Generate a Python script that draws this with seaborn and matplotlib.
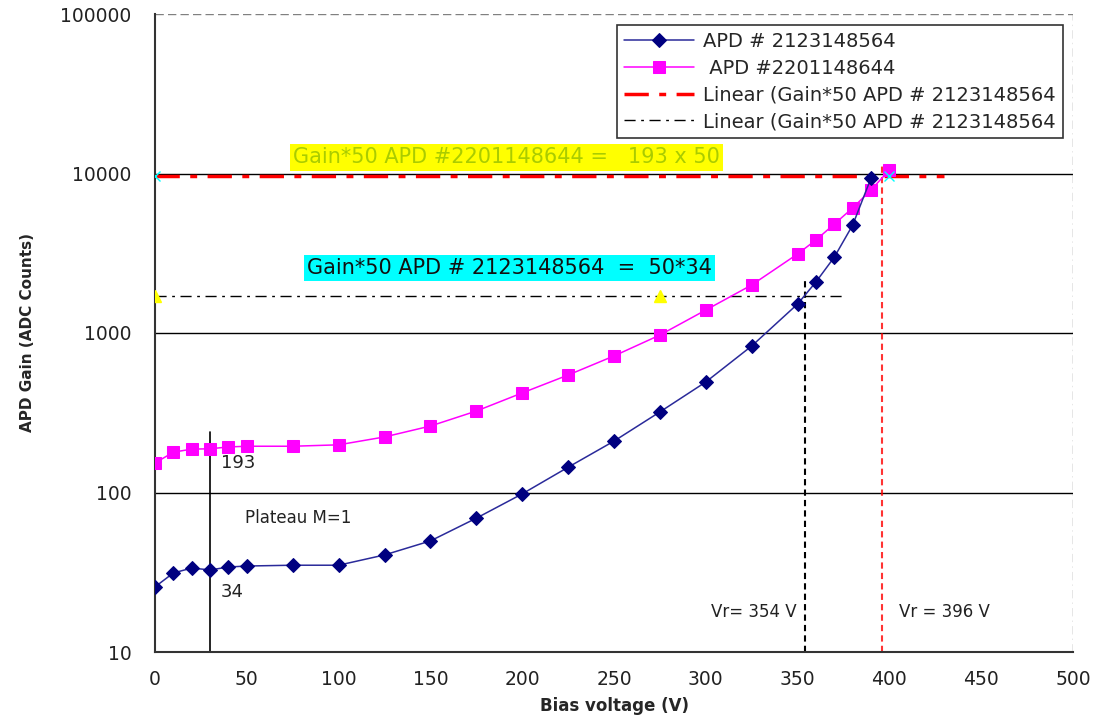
import matplotlib
matplotlib.use("Agg")
import matplotlib.pyplot as plt
import seaborn as sns
import numpy as np
import pandas as pd

# ---- data ----
bias_blue = [0, 10, 20, 30, 40, 50, 75, 100, 125, 150, 175, 200, 225, 250, 275,
             300, 325, 350, 360, 370, 380, 390]
gain_blue = [25.6, 31.3, 33.6, 32.7, 34.1, 34.6, 35, 35, 40.6, 49.7, 69, 98, 144,
             210, 320, 493, 829, 1520, 2090, 2990, 4750, 9370]

bias_pink = [0, 10, 20, 30, 40, 50, 75, 100, 125, 150, 175, 200, 225, 250, 275,
             300, 325, 350, 360, 370, 380, 390, 400]
gain_pink = [153, 179, 187, 188, 193, 195, 195, 199, 223, 261, 324, 421, 545,
             718, 971, 1393, 2000, 3130, 3830, 4820, 6080, 7890, 10520]

label_blue = "APD # 2123148564"
label_pink = " APD #2201148644"
label_red = "Linear (Gain*50 APD # 2123148564"
label_black = "Linear (Gain*50 APD # 2123148564"

red_x = [0, 430]
red_y = [9650, 9650]
black_x = [0, 376]
black_y = [1700, 1700]
tri_x = [0, 275]
tri_y = [1700, 1700]
cyan_x = [0, 400]
cyan_y = [9650, 9650]

vr_black = 354
vr_red = 396
plateau_x = 30

xticks = [0, 50, 100, 150, 200, 250, 300, 350, 400, 450, 500]
yticks = [10, 100, 1000, 10000, 100000]

# ---- plot ----
sns.set_style("white")
plt.rcParams['font.family'] = ['DejaVu Sans']

fig = plt.figure(figsize=(11.08, 7.2), dpi=100)
ax = fig.add_axes([155/1108, 1-652/720, (1073-155)/1108, (652-14)/720])

# grid lines
for yv in [100, 1000, 10000]:
    ax.axhline(yv, color="black", lw=1.0, zorder=1)

df_b = pd.DataFrame({"x": bias_blue, "y": gain_blue})
df_p = pd.DataFrame({"x": bias_pink, "y": gain_pink})

sns.lineplot(data=df_b, x="x", y="y", ax=ax, color="#2a2a9a", lw=1.1,
             marker="D", markersize=7, markerfacecolor="#000080",
             markeredgecolor="#000080", label=label_blue, zorder=4)
sns.lineplot(data=df_p, x="x", y="y", ax=ax, color="#ff00ff", lw=1.1,
             marker="s", markersize=8, markerfacecolor="#ff00ff",
             markeredgecolor="#ff00ff", label=label_pink, zorder=3)

ax.plot(red_x, red_y, color="red", lw=2.5, ls=(0, (7, 3, 2, 3)),
        label=label_red, zorder=2)
ax.plot(black_x, black_y, color="black", lw=1.0, ls=(0, (8, 4, 2, 4)),
        label=label_black, zorder=2)

ax.plot(tri_x, tri_y, ls="none", marker="^", color="yellow", markersize=9, zorder=5)
ax.plot(cyan_x, cyan_y, ls="none", marker="x", color="cyan", markersize=7, zorder=5)

# vertical lines
ax.plot([vr_black, vr_black], [10, 2240], color="black", lw=1.5,
        ls=(0, (3, 2)), zorder=2)
ax.plot([vr_red, vr_red], [10, 11500], color="red", lw=1.5,
        ls=(0, (3, 2)), alpha=0.8, zorder=2)
ax.plot([plateau_x, plateau_x], [10, 240], color="black", lw=1.2, zorder=2)

# borders
ax.axhline(100000, color="gray", lw=1.0, ls=(0, (6, 3)))
ax.axvline(500, color="gray", lw=1.0, ls=(0, (6, 3, 1, 3)))

ax.set_yscale("log")
ax.set_xlim(0, 500)
ax.set_ylim(10, 100000)
ax.set_xticks(xticks)
ax.set_xticklabels([str(v) for v in xticks])
ax.set_yticks(yticks)
ax.set_yticklabels([str(v) for v in yticks])
ax.minorticks_off()
ax.tick_params(axis="both", direction="out", length=7, width=1.0,
               color="black", labelsize=13.5, labelcolor="#222222", pad=6)
ax.tick_params(axis="y", pad=10)

for s in ["top", "right"]:
    ax.spines[s].set_visible(False)
for s in ["left", "bottom"]:
    ax.spines[s].set_color("#333333")
    ax.spines[s].set_linewidth(1.5)

ax.set_xlabel("Bias voltage (V)", fontsize=12, fontweight="bold", labelpad=6)
ax.set_ylabel("APD Gain (ADC Counts)", fontsize=11, fontweight="bold", labelpad=18)

# annotations
ax.text(36, 153, "193", fontsize=13, color="#222222", va="center", ha="left")
ax.text(36, 23.8, "34", fontsize=13, color="#222222", va="center", ha="left")
ax.text(49, 69, "Plateau M=1", fontsize=12, color="#222222", va="center", ha="left")
ax.text(303, 17.8, "Vr= 354 V", fontsize=12, color="#222222", va="center", ha="left")
ax.text(405, 17.8, "Vr = 396 V", fontsize=12, color="#222222", va="center", ha="left")

ax.text(75, 12600, "Gain*50 APD #2201148644 =   193 x 50", fontsize=15,
        color="#aacc00", va="center", ha="left",
        bbox=dict(boxstyle="square,pad=0.15", fc="yellow", ec="none"))
ax.text(83, 2550, "Gain*50 APD # 2123148564  =  50*34", fontsize=15,
        color="#111111", va="center", ha="left",
        bbox=dict(boxstyle="square,pad=0.15", fc="cyan", ec="none"))

handles, labels = ax.get_legend_handles_labels()
leg = ax.legend(handles, labels, loc="upper right", bbox_to_anchor=(0.989, 0.9828),
                borderaxespad=0, fontsize=14, frameon=True, fancybox=False,
                edgecolor="black", handlelength=3.6, labelspacing=0.4,
                borderpad=0.35, handletextpad=0.5)
leg.get_frame().set_linewidth(1.2)

fig.savefig("out.png", dpi=100, facecolor="white")
